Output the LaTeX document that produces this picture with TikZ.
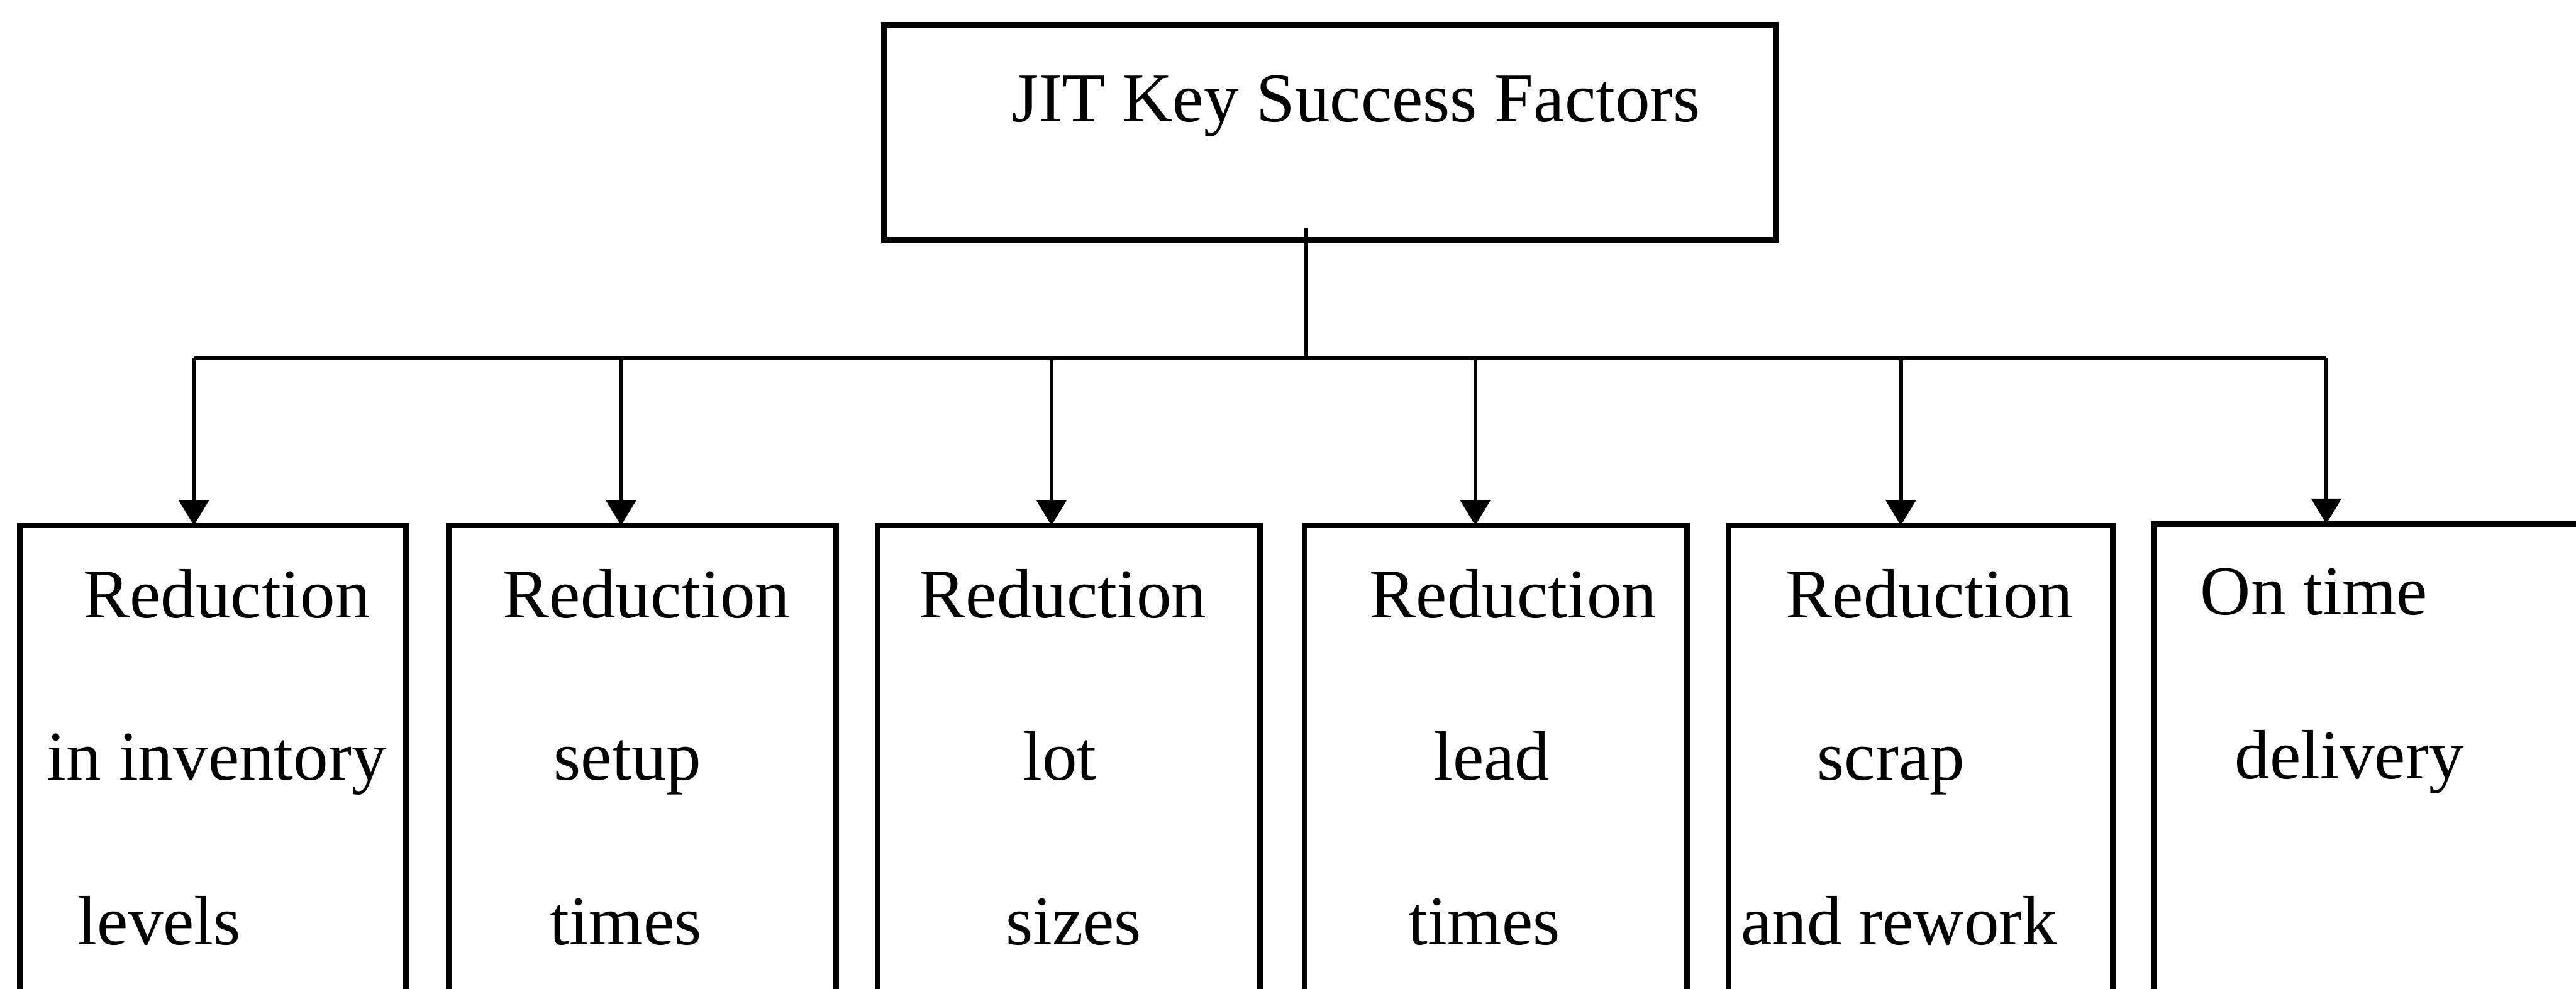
\documentclass[tikz,border=0pt]{standalone}
\usepackage{fontspec}
\setmainfont{Liberation Serif}
\usetikzlibrary{arrows.meta}

\begin{document}
\begin{tikzpicture}[x=0.1mm, y=-0.1mm,
  frame/.style={draw, rectangle, line width=0.95pt, outer sep=0pt, inner sep=0pt, anchor=north west},
  factorbox/.style={frame, minimum width=#1, minimum height=40mm},
  conn/.style={line width=0.7pt},
  arrowconn/.style={conn, -{Triangle[width=1.8mm, length=1.55mm]}},
  lbl/.style={anchor=base, inner sep=0pt, font=\fontsize{12.1pt}{14pt}\selectfont}
]
\useasboundingbox (0,0) rectangle (1568,602);
\clip (0,0) rectangle (1568,602);

% root box
\node[frame, line width=1pt, minimum width=54.3mm, minimum height=13.1mm] (top) at (538,15) {};
\node[lbl] (toptext) at (825.5,74) {JIT Key Success Factors};

% factor boxes (open towards the bottom of the page)
\node[factorbox=23.5mm] (f1) at (12,320) {};
\node[factorbox=23.6mm] (f2) at (273,320) {};
\node[factorbox=23.3mm] (f3) at (534,320) {};
\node[factorbox=23.3mm] (f4) at (794,320) {};
\node[factorbox=23.4mm] (f5) at (1052,320) {};
\node[factorbox=30mm]   (f6) at (1311,319) {};

% labels
\node[lbl] (l1a) at (138,376)   {Reduction};
\node[lbl] (l1b) at (132,475)   {in inventory};
\node[lbl] (l1c) at (97,575)    {levels};
\node[lbl] (l2a) at (393.5,376) {Reduction};
\node[lbl] (l2b) at (382,475)   {setup};
\node[lbl] (l2c) at (381,575)   {times};
\node[lbl] (l3a) at (647,376)   {Reduction};
\node[lbl] (l3b) at (645,475)   {lot};
\node[lbl] (l3c) at (653.5,575) {sizes};
\node[lbl] (l4a) at (921,376)   {Reduction};
\node[lbl] (l4b) at (908,475)   {lead};
\node[lbl] (l4c) at (903.5,575) {times};
\node[lbl] (l5a) at (1174.5,376){Reduction};
\node[lbl] (l5b) at (1151,475)  {scrap};
\node[lbl] (l5c) at (1156,575)  {and rework};
\node[lbl] (l6a) at (1408.5,374){On time};
\node[lbl] (l6b) at (1430,474)  {delivery};

% distribution bar
\coordinate (hub) at (795,218);
\coordinate (b1) at (118,218);
\coordinate (b2) at (378,218);
\coordinate (b3) at (640,218);
\coordinate (b4) at (898,218);
\coordinate (b5) at (1157,218);
\coordinate (b6) at (1416,218);

\draw[conn] ([yshift=0.7mm]top.south -| hub) -- (hub);
\draw[conn] (b1) -- (b6);
\foreach \i in {1,...,6} {
  \draw[arrowconn] (b\i) -- (b\i |- f\i.north);
}
\end{tikzpicture}
\end{document}
